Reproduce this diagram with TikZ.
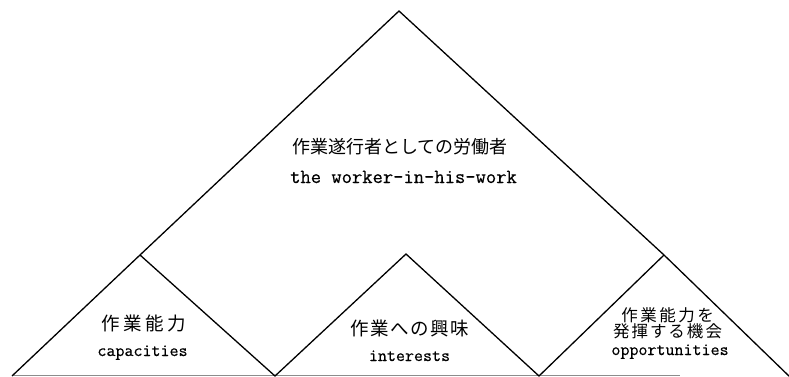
\documentclass[tikz,border=0pt]{standalone}
\usepackage{fontspec}
\newfontfamily\cjk{Noto Sans CJK JP}
\newfontfamily\entt[FakeBold=0.5]{Latin Modern Mono}
\newlength{\jwid}
\newcommand{\jb}[1]{\makebox[\jwid]{#1}}
\tikzset{
  edge/.style={line width=1.3pt, line join=miter},
  baseline line/.style={line width=1pt, draw=black!45},
  jp/.style={inner sep=0pt, anchor=base, font=\cjk\fontsize{18}{20}\selectfont},
  jpsmall/.style={inner sep=0pt, anchor=base, font=\cjk\fontsize{18.5}{20}\selectfont},
  jptight/.style={inner sep=0pt, anchor=base, font=\cjk\fontsize{16.5}{18}\selectfont},
  en/.style={inner sep=0pt, anchor=base, font=\entt\fontsize{20}{22}\selectfont},
  ensmall/.style={inner sep=0pt, anchor=base, font=\entt\fontsize{17.5}{20}\selectfont},
}
\begin{document}
\begin{tikzpicture}[x=1pt,y=-1pt]
\useasboundingbox (0,0) rectangle (789,377);
% vertices
\coordinate (top) at (399,11);
\coordinate (lj) at (140,255);
\coordinate (rj) at (664,255);
\coordinate (ma) at (406,254);
\coordinate (b0) at (12,376);
\coordinate (b1) at (275,376);
\coordinate (b2) at (539,376);
\coordinate (b3) at (791,378);
\coordinate (g0) at (12,375.5);
\coordinate (g1) at (680,375.5);
% base line
\draw[baseline line] (g0) -- (g1);
% edges
\draw[edge] (b0) -- (lj) -- (top) -- (rj) -- (b3);
\draw[edge] (lj) -- (b1) -- (ma) -- (b2) -- (rj);
% texts
\node[jp] (mainjp) at (400,153.5) {作業遂行者としての労働者};
\node[en] (mainen) at (403.5,183) {the worker-in-his-work};
\setlength{\jwid}{22pt}
\node[jpsmall] (capjp) at (144,330.5) {\jb{作}\jb{業}\jb{能}\jb{力}};
\node[ensmall] (capen) at (142.5,356) {capacities};
\setlength{\jwid}{20pt}
\node[jpsmall] (intjp) at (410,335) {\jb{作}\jb{業}\jb{へ}\jb{の}\jb{興}\jb{味}};
\node[ensmall] (inten) at (409.5,361) {interests};
\setlength{\jwid}{19pt}
\node[jptight] (oppjp1) at (667.5,321.3) {\jb{作}\jb{業}\jb{能}\jb{力}\jb{を}};
\setlength{\jwid}{18.5pt}
\node[jptight] (oppjp2) at (667.5,337.5) {\jb{発}\jb{揮}\jb{す}\jb{る}\jb{機}\jb{会}};
\node[ensmall] (oppen) at (670,355) {opportunities};
\end{tikzpicture}
\end{document}
